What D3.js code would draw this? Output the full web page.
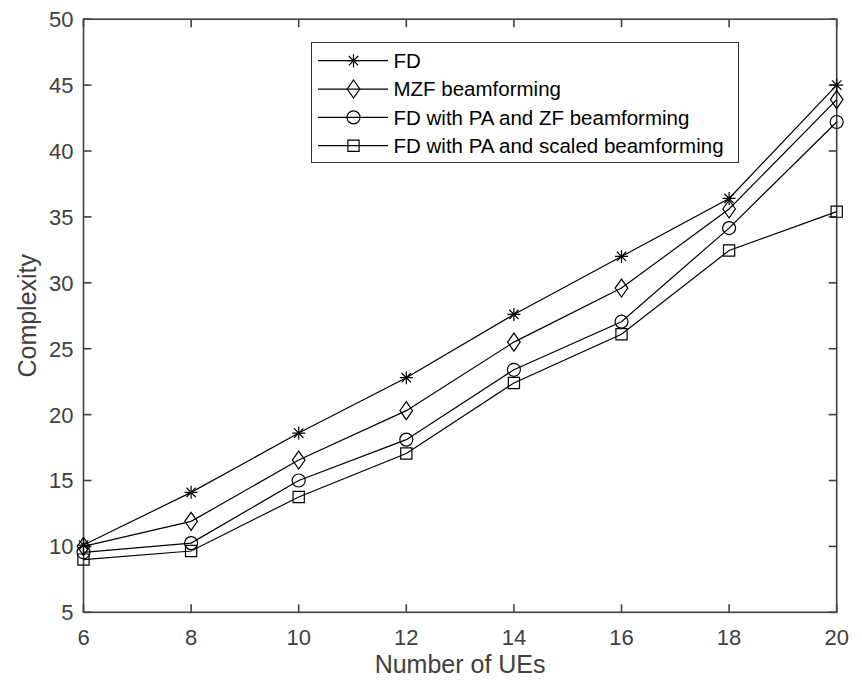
<!DOCTYPE html>
<html>
<head>
<meta charset="utf-8">
<script src="https://cdn.jsdelivr.net/npm/d3@7"></script>
<style>
  body { margin: 0; background: #fff; }
  svg text { font-family: "Liberation Sans", Arial, sans-serif; }
</style>
</head>
<body>
<svg id="chart" width="862" height="682"></svg>
<script>
// data
var ues = [6, 8, 10, 12, 14, 16, 18, 20];
var fd = [10.1, 14.1, 18.6, 22.8, 27.6, 32.0, 36.4, 45.0];
var mzf = [10.0, 11.9, 16.55, 20.3, 25.5, 29.6, 35.6, 43.9];
var paZf = [9.55, 10.25, 15.0, 18.1, 23.4, 27.05, 34.15, 42.2];
var paScaled = [9.0, 9.65, 13.75, 17.05, 22.4, 26.1, 32.45, 35.4];
var seriesNames = ['FD', 'MZF beamforming', 'FD with PA and ZF beamforming', 'FD with PA and scaled beamforming'];
var markers = ['star', 'diamond', 'circle', 'square'];
var xTicks = [6, 8, 10, 12, 14, 16, 18, 20];
var yTicks = [5, 10, 15, 20, 25, 30, 35, 40, 45, 50];

var series = [fd, mzf, paZf, paScaled].map(function (vals, i) {
    return { name: seriesNames[i], marker: markers[i], values: vals };
});

var svg = d3.select('#chart');
var plotL = 83.5, plotR = 836.7, plotT = 19.2, plotB = 612.3;
var axisColor = '#404040';

var x = d3.scaleLinear().domain([6, 20]).range([plotL, plotR]);
var y = d3.scaleLinear().domain([5, 50]).range([plotB, plotT]);

// marker path generator (centered at 0,0)
function markerPath(type) {
    var p = d3.path();
    if (type === 'star') {
        var r = 6.5, d = r * 0.72;
        p.moveTo(-r, 0); p.lineTo(r, 0);
        p.moveTo(0, -r); p.lineTo(0, r);
        p.moveTo(-d, -d); p.lineTo(d, d);
        p.moveTo(-d, d); p.lineTo(d, -d);
    } else if (type === 'diamond') {
        p.moveTo(0, -9); p.lineTo(6.3, 0); p.lineTo(0, 9); p.lineTo(-6.3, 0); p.closePath();
    } else if (type === 'circle') {
        p.moveTo(6.5, 0); p.arc(0, 0, 6.5, 0, 2 * Math.PI);
    } else {
        p.rect(-5.6, -5.6, 11.2, 11.2);
    }
    return p.toString();
}

// axes: box with inward ticks on all sides
var axes = svg.append('g');
axes.append('rect')
    .attr('x', plotL).attr('y', plotT)
    .attr('width', plotR - plotL).attr('height', plotB - plotT)
    .attr('fill', 'none').attr('stroke', axisColor).attr('stroke-width', 1.6);

var tickLen = 8;
xTicks.forEach(function (t) {
    axes.append('line').attr('x1', x(t)).attr('x2', x(t)).attr('y1', plotB).attr('y2', plotB - tickLen)
        .attr('stroke', axisColor).attr('stroke-width', 1.6);
    axes.append('line').attr('x1', x(t)).attr('x2', x(t)).attr('y1', plotT).attr('y2', plotT + tickLen)
        .attr('stroke', axisColor).attr('stroke-width', 1.6);
    axes.append('text').attr('x', x(t)).attr('y', plotB + 33)
        .attr('text-anchor', 'middle').attr('font-size', 22).attr('fill', axisColor).text(t);
});
yTicks.forEach(function (t) {
    axes.append('line').attr('x1', plotL).attr('x2', plotL + tickLen).attr('y1', y(t)).attr('y2', y(t))
        .attr('stroke', axisColor).attr('stroke-width', 1.6);
    axes.append('line').attr('x1', plotR).attr('x2', plotR - tickLen).attr('y1', y(t)).attr('y2', y(t))
        .attr('stroke', axisColor).attr('stroke-width', 1.6);
    axes.append('text').attr('x', plotL - 10).attr('y', y(t)).attr('dy', '0.36em')
        .attr('text-anchor', 'end').attr('font-size', 22).attr('fill', axisColor).text(t);
});

svg.append('text').attr('x', (plotL + plotR) / 2).attr('y', 673)
    .attr('text-anchor', 'middle').attr('font-size', 25).attr('fill', axisColor).text('Number of UEs');
svg.append('text').attr('transform', 'translate(36,' + (plotT + plotB) / 2 + ') rotate(-90)')
    .attr('text-anchor', 'middle').attr('font-size', 25).attr('fill', axisColor).text('Complexity');

// lines and markers
var line = d3.line().x(function (d, i) { return x(ues[i]); }).y(function (d) { return y(d); });

var g = svg.append('g').selectAll('g').data(series).join('g');
g.append('path')
    .attr('d', function (s) { return line(s.values); })
    .attr('fill', 'none').attr('stroke', '#000').attr('stroke-width', 1.2);
g.each(function (s) {
    d3.select(this).selectAll('path.mk').data(s.values).join('path')
        .attr('class', 'mk')
        .attr('transform', function (d, i) { return 'translate(' + x(ues[i]) + ',' + y(d) + ')'; })
        .attr('d', markerPath(s.marker))
        .attr('fill', 'none').attr('stroke', '#000').attr('stroke-width', 1.2);
});

// legend
var lg = svg.append('g');
lg.append('rect').attr('x', 311.5).attr('y', 42.5).attr('width', 427).attr('height', 120)
    .attr('fill', '#fff').attr('stroke', '#333').attr('stroke-width', 1);
series.forEach(function (s, i) {
    var ry = 60.7 + i * 28.33;
    lg.append('line').attr('x1', 318).attr('x2', 388).attr('y1', ry).attr('y2', ry)
        .attr('stroke', '#000').attr('stroke-width', 1.2);
    lg.append('path').attr('transform', 'translate(353.5,' + ry + ')')
        .attr('d', markerPath(s.marker)).attr('fill', 'none').attr('stroke', '#000').attr('stroke-width', 1.2);
    lg.append('text').attr('x', 393.5).attr('y', ry).attr('dy', '0.36em')
        .attr('font-size', 20.5).attr('fill', '#000').text(s.name);
});
</script>
</body>
</html>
